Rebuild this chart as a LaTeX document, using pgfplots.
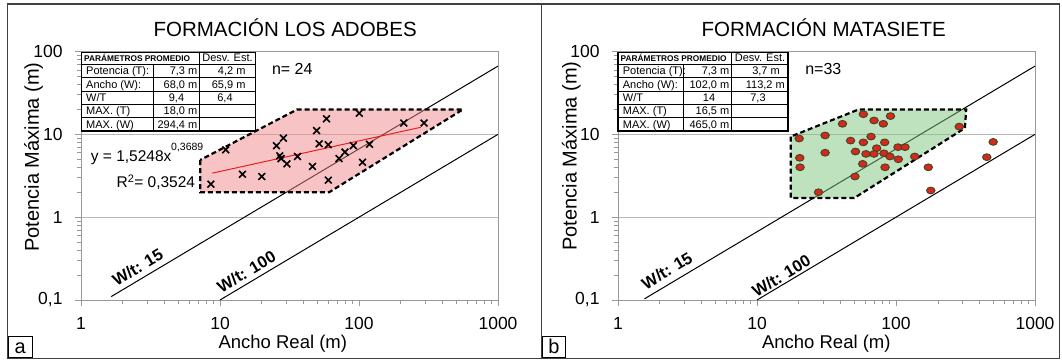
\documentclass[border=0pt]{standalone}
\usepackage{pgfplots}
\pgfplotsset{compat=1.18}
\usepackage{fontspec}
\setmainfont{Liberation Sans}
\definecolor{pinkfill}{RGB}{241,135,139}
\definecolor{greenfill}{RGB}{125,195,125}
\definecolor{dotred}{RGB}{215,40,25}
\definecolor{dotedge}{RGB}{60,70,40}
\definecolor{trend}{RGB}{235,30,30}
\newcommand\fs[1]{\fontsize{#1pt}{#1pt}\selectfont}

\begin{document}
\begin{tikzpicture}[x=1pt,y=1pt]
\useasboundingbox (0,0) rectangle (1062,360);
% panel frames
\draw[line width=1.4pt, black!75] (7.5,356) rectangle (541.5,1.8);
\draw[line width=1.4pt, black!75] (541.5,356) rectangle (1059.5,1.8);

% ---------------- Panel a ----------------
\begin{axis}[at={(81pt,60pt)}, anchor=south west,
  scale only axis, width=417pt, height=248.5pt,
  xmode=log, ymode=log, xmin=1, xmax=1000, ymin=0.1, ymax=100,
  xtick={1,10,100,1000}, xticklabels={1,10,100,1000},
  ytick={0.1,1,10,100}, yticklabels={{0,1},1,10,100},
  minor xtick={2,3,4,5,6,7,8,9,20,30,40,50,60,70,80,90,200,300,400,500,600,700,800,900},
  minor ytick={0.2,0.3,0.4,0.5,0.6,0.7,0.8,0.9,2,3,4,5,6,7,8,9,20,30,40,50,60,70,80,90},
  tick pos=left, tick align=outside,
  major tick length=6pt, minor tick length=4pt,
  ymajorgrids, major grid style={gray!55, line width=0.8pt},
  axis line style={gray!80, line width=0.8pt},
  tick style={gray!80, line width=0.7pt},
  tick label style={font=\fs{17.5}},
  xticklabel style={yshift=-8pt},
  yticklabel style={xshift=-9pt}]
\addplot[black, line width=1pt] coordinates {(1.65,0.11) (1000,66.67)};
\addplot[black, line width=1pt] coordinates {(10,0.1) (1000,10)};
\addplot[fill=pinkfill, fill opacity=0.5, draw=black, draw opacity=1, line width=2.2pt, dash pattern=on 5pt off 3pt]
  coordinates {(7.2,4.9) (7.2,2.0) (61,2.0) (560,20) (36,20) (7.2,4.9)};
\addplot[trend, line width=1pt] coordinates {(8.8,3.40) (278,12.16)};
\addplot[only marks, mark=x, mark size=4.8pt, black, line width=1.6pt] coordinates {
(8.6,2.5) (11.0,6.5) (14.5,3.3) (20.0,3.1) (25.5,7.3) (28.6,9.0) (26.9,5.5) (27.5,5.1)
(30.3,4.4) (36.1,5.4) (46.3,4.1) (58.4,15.4) (49.5,11.1) (51.7,7.7) (60.1,7.5) (60.1,2.8)
(71.8,5.1) (79.3,6.1) (91.0,7.3) (100.5,18.0) (106,4.6) (119,7.6) (210,13.7) (294,13.7)};
\end{axis}

% ---------------- Panel b ----------------
\begin{axis}[at={(618pt,60pt)}, anchor=south west,
  scale only axis, width=417pt, height=248.5pt,
  xmode=log, ymode=log, xmin=1, xmax=1000, ymin=0.1, ymax=100,
  xtick={1,10,100,1000}, xticklabels={1,10,100,1000},
  ytick={0.1,1,10,100}, yticklabels={{0,1},1,10,100},
  minor xtick={2,3,4,5,6,7,8,9,20,30,40,50,60,70,80,90,200,300,400,500,600,700,800,900},
  minor ytick={0.2,0.3,0.4,0.5,0.6,0.7,0.8,0.9,2,3,4,5,6,7,8,9,20,30,40,50,60,70,80,90},
  tick pos=left, tick align=outside,
  major tick length=6pt, minor tick length=4pt,
  ymajorgrids, major grid style={gray!55, line width=0.8pt},
  axis line style={gray!80, line width=0.8pt},
  tick style={gray!80, line width=0.7pt},
  tick label style={font=\fs{17.5}},
  xticklabel style={yshift=-8pt},
  yticklabel style={xshift=-9pt}]
\addplot[black, line width=1pt] coordinates {(1.55,0.1033) (1000,66.67)};
\addplot[black, line width=1pt] coordinates {(10,0.1) (1000,10)};
\addplot[fill=greenfill, fill opacity=0.5, draw=black, draw opacity=1, line width=2.2pt, dash pattern=on 5pt off 3pt]
  coordinates {(17.5,9.4) (17.5,1.7) (50,1.7) (313,11.9) (320,20) (54,20) (17.5,9.4)};
\addplot[only marks, mark=*, mark size=3.4pt, mark options={fill=dotred, draw=dotedge, line width=0.9pt, xscale=1.25}] coordinates {
(20.1,8.9) (30.9,9.7) (41.2,13.4) (58.2,17.5) (69.5,14.7) (81.0,13.4) (91.3,16.6) (66.1,9.4)
(47.1,8.4) (58.2,8.0) (82.9,8.0) (72.6,6.8) (103.3,7.0) (116.1,7.0) (30.9,6.0) (51.1,6.2)
(60.8,5.8) (69.5,5.8) (81.9,5.9) (90.5,5.4) (103.9,5.0) (136.3,5.4) (20.3,5.2) (20.4,4.0)
(57.6,4.4) (83.4,4.0) (50.7,3.1) (27.7,2.0) (285,12.4) (170.7,4.0) (177.9,2.1) (450,5.3) (500,8.1)};
\end{axis}

% ---------------- texts panel a ----------------
\node[anchor=base, inner sep=0] at (285.2,324) {\fs{20.5}FORMACIÓN LOS ADOBES};
\node[anchor=base, inner sep=0] at (282.8,11.7) {\fs{18.5}Ancho Real (m)};
\node[anchor=base, inner sep=0, rotate=90] at (38.9,203) {\fs{20}Potencia Máxima (m)};
\node[anchor=base west, inner sep=0] at (271.8,286) {\fs{16}n= 24};
\node[anchor=base west, inner sep=0] at (90.7,198.3) {\fs{15.5}y = 1,5248x};
\node[anchor=base west, inner sep=0] at (171,209.3) {\fs{10.5}0,3689};
\node[anchor=base east, inner sep=0] at (195.3,172.7) {\fs{15.5}R\textsuperscript{2}= 0,3524};
\node[anchor=center, inner sep=0, rotate=31] at (137.6,92.6) {\fs{16.5}\bfseries W/t: 15};
\node[anchor=center, inner sep=0, rotate=31] at (246.4,88.4) {\fs{16.5}\bfseries W/t: 100};

% table a
\fill[white] (81.5,307.5) rectangle (255.7,229);
\draw[black, line width=0.9pt] (81.5,295.5) -- (255.7,295.5)
  (81.5,282.2) -- (255.7,282.2) (81.5,268.9) -- (255.7,268.9)
  (81.5,255.6) -- (255.7,255.6) (81.5,242.3) -- (255.7,242.3)
  (153.3,295.5) -- (153.3,229) (199.3,307.5) -- (199.3,229);
\draw[black, line width=1.2pt] (81.5,307.5) rectangle (255.7,229);
\node[anchor=base west, inner sep=0] at (84,298.5) {\fs{8.3}\bfseries PARÁMETROS PROMEDIO};
\node[anchor=base, inner sep=0] at (227.5,298.5) {\fs{11}Desv. Est.};
\node[anchor=base west, inner sep=0] at (86,285.2) {\fs{11}Potencia (T):};
\node[anchor=base west, inner sep=0] at (86,271.9) {\fs{11}Ancho (W):};
\node[anchor=base west, inner sep=0] at (86,258.6) {\fs{11}W/T};
\node[anchor=base west, inner sep=0] at (86,245.3) {\fs{11}MAX. (T)};
\node[anchor=base west, inner sep=0] at (86,232) {\fs{11}MAX. (W)};
\node[anchor=base east, inner sep=0] at (197.5,285.2) {\fs{11}7,3 m};
\node[anchor=base east, inner sep=0] at (197.5,271.9) {\fs{11}68,0 m};
\node[anchor=base, inner sep=0] at (176.5,258.6) {\fs{11}9,4};
\node[anchor=base east, inner sep=0] at (197.5,245.3) {\fs{11}18,0 m};
\node[anchor=base east, inner sep=0] at (197.5,232) {\fs{11}294,4 m};
\node[anchor=base east, inner sep=0] at (245.7,285.2) {\fs{11}4,2 m};
\node[anchor=base east, inner sep=0] at (245.7,271.9) {\fs{11}65,9 m};
\node[anchor=base, inner sep=0] at (225,258.6) {\fs{11}6,4};

% ---------------- texts panel b ----------------
\node[anchor=base, inner sep=0] at (823.7,324) {\fs{20.5}FORMACIÓN MATASIETE};
\node[anchor=base, inner sep=0] at (826.3,11.7) {\fs{18.5}Ancho Real (m)};
\node[anchor=base, inner sep=0, rotate=90] at (576.7,204) {\fs{20}Potencia Máxima (m)};
\node[anchor=base west, inner sep=0] at (805.1,286) {\fs{16}n=33};
\node[anchor=center, inner sep=0, rotate=31] at (667,89.3) {\fs{16.5}\bfseries W/t: 15};
\node[anchor=center, inner sep=0, rotate=31] at (781.3,84.2) {\fs{16.5}\bfseries W/t: 100};

% table b
\fill[white] (618,307.5) rectangle (788,229);
\draw[black, line width=0.9pt] (618,295.5) -- (788,295.5)
  (618,282.2) -- (788,282.2) (618,268.9) -- (788,268.9)
  (618,255.6) -- (788,255.6) (618,242.3) -- (788,242.3)
  (683.5,295.5) -- (683.5,229) (731.7,307.5) -- (731.7,229);
\draw[black, line width=1.2pt] (618,307.5) rectangle (788,229);
\node[anchor=base west, inner sep=0] at (620.5,298.5) {\fs{8.3}\bfseries PARÁMETROS PROMEDIO};
\node[anchor=base, inner sep=0] at (760,298.5) {\fs{11}Desv. Est.};
\node[anchor=base west, inner sep=0] at (622.7,285.2) {\fs{11}Potencia (T):};
\node[anchor=base west, inner sep=0] at (622.7,271.9) {\fs{11}Ancho (W):};
\node[anchor=base west, inner sep=0] at (622.7,258.6) {\fs{11}W/T};
\node[anchor=base west, inner sep=0] at (622.7,245.3) {\fs{11}MAX. (T)};
\node[anchor=base west, inner sep=0] at (622.7,232) {\fs{11}MAX. (W)};
\node[anchor=base east, inner sep=0] at (729.5,285.2) {\fs{11}7,3 m};
\node[anchor=base east, inner sep=0] at (729.5,271.9) {\fs{11}102,0 m};
\node[anchor=base, inner sep=0] at (709,258.6) {\fs{11}14};
\node[anchor=base east, inner sep=0] at (729.5,245.3) {\fs{11}16,5 m};
\node[anchor=base east, inner sep=0] at (729.5,232) {\fs{11}465,0 m};
\node[anchor=base east, inner sep=0] at (780,285.2) {\fs{11}3,7 m};
\node[anchor=base east, inner sep=0] at (785,271.9) {\fs{11}113,2 m};
\node[anchor=base, inner sep=0] at (758,258.6) {\fs{11}7,3};

% panel letters
\draw[draw=black, fill=white, line width=1pt] (8.3,24) rectangle (32.3,2.5);
\node[anchor=base, inner sep=0] at (20.3,6.7) {\fs{20}a};
\draw[draw=black, fill=white, line width=1pt] (542.3,24) rectangle (565.5,2.5);
\node[anchor=base, inner sep=0] at (554,6.7) {\fs{20}b};
\end{tikzpicture}
\end{document}
